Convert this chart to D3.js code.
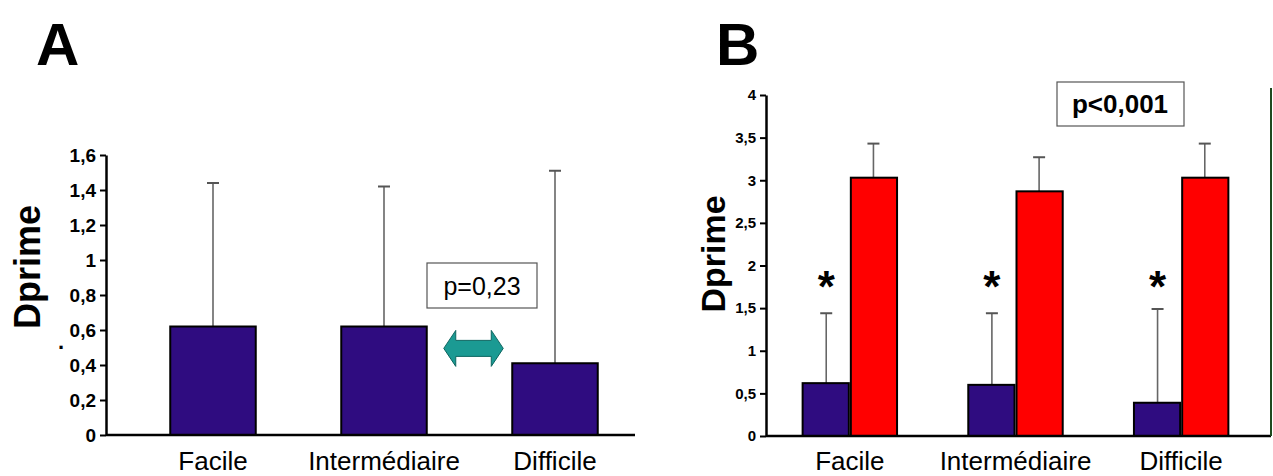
<!DOCTYPE html>
<html>
<head>
<meta charset="utf-8">
<script src="https://cdn.jsdelivr.net/npm/d3@7/dist/d3.min.js"></script>
<style>
  html, body { margin: 0; padding: 0; background: #fff; }
  svg { display: block; font-family: "Liberation Sans", Arial, sans-serif; }
</style>
</head>
<body>
<svg id="chart" width="1273" height="476"></svg>
<script>
// ---- data ----
const categories = ["Facile", "Intermédiaire", "Difficile"];
const aValues = [0.62, 0.62, 0.41];
const aErrTop = [1.44, 1.42, 1.51];
const bBlueValues = [0.62, 0.60, 0.39];
const bBlueErrTop = [1.44, 1.44, 1.49];
const bRedValues = [3.03, 2.87, 3.03];
const bRedErrTop = [3.43, 3.27, 3.43];
const aTicks = [0, 0.2, 0.4, 0.6, 0.8, 1, 1.2, 1.4, 1.6];
const bTicks = [0, 0.5, 1, 1.5, 2, 2.5, 3, 3.5, 4];
const aPText = "p=0,23";
const bPText = "p<0,001";
const yLabel = "Dprime";

const svg = d3.select("#chart");
const fmt = d => String(d).replace(".", ",");
const blue = "#2f0c80", red = "#ff0000";

function drawErr(g, x, y0, y1) {
  g.append("line").attr("x1", x).attr("x2", x).attr("y1", y0).attr("y2", y1)
    .attr("stroke", "#666").attr("stroke-width", 1.6);
  g.append("line").attr("x1", x - 6).attr("x2", x + 6).attr("y1", y1).attr("y2", y1)
    .attr("stroke", "#555").attr("stroke-width", 2);
}

// ================= Panel A =================
{
  const g = svg.append("g");
  const y = d3.scaleLinear().domain([0, 1.6]).range([435, 155]);
  const x = d3.scaleBand().domain(categories).range([127.5, 640.5]).paddingInner(0.5).paddingOuter(0.25);
  const axisX0 = 106, axisX1 = 635;

  g.append("text").attr("x", 36).attr("y", 65).attr("font-size", 60).attr("font-weight", "bold").text("A");

  categories.forEach((c, i) => drawErr(g, x(c) + x.bandwidth() / 2, y(aValues[i]), y(aErrTop[i])));

  g.selectAll("rect.bar").data(categories).join("rect")
    .attr("x", c => x(c)).attr("width", x.bandwidth())
    .attr("y", (c, i) => y(aValues[i])).attr("height", (c, i) => y(0) - y(aValues[i]))
    .attr("fill", blue).attr("stroke", "#000").attr("stroke-width", 2);

  const ax = g.append("g").attr("transform", `translate(${axisX0},0)`)
    .call(d3.axisLeft(y).tickValues(aTicks).tickFormat(fmt).tickSize(6).tickSizeOuter(0).tickPadding(4));
  ax.attr("font-size", 19).attr("font-family", "Liberation Sans, Arial, sans-serif");
  ax.select(".domain").attr("stroke-width", 2.5);
  ax.selectAll(".tick line").attr("stroke-width", 2);
  ax.selectAll(".tick text").attr("font-weight", "bold").attr("fill", "#000");

  g.append("line").attr("x1", axisX0).attr("x2", axisX1).attr("y1", y(0)).attr("y2", y(0))
    .attr("stroke", "#000").attr("stroke-width", 2.5);

  g.selectAll("text.cat").data(categories).join("text")
    .attr("x", c => x(c) + x.bandwidth() / 2).attr("y", 470)
    .attr("text-anchor", "middle").attr("font-size", 26).text(c => c);

  g.append("text").attr("transform", "translate(40,267) rotate(-90)")
    .attr("text-anchor", "middle").attr("font-size", 36).attr("font-weight", "bold").text(yLabel);
  g.append("text").attr("x", 58).attr("y", 349).attr("font-size", 22).attr("font-weight", "bold").text(".");

  g.append("rect").attr("x", 427).attr("y", 263).attr("width", 110).attr("height", 45)
    .attr("fill", "#fff").attr("stroke", "#555").attr("stroke-width", 1.2);
  g.append("text").attr("x", 482).attr("y", 295).attr("text-anchor", "middle").attr("font-size", 25).text(aPText);

  const ax0 = x(categories[1]) + x.bandwidth() + 17, ax1 = x(categories[2]) - 9;
  const ay = y((aValues[1] + aValues[2]) / 2 - 0.02);
  const hw = 12, sh = 8, hh = 18;
  const pts = [[ax0, ay], [ax0 + hw, ay - hh], [ax0 + hw, ay - sh], [ax1 - hw, ay - sh], [ax1 - hw, ay - hh],
               [ax1, ay], [ax1 - hw, ay + hh], [ax1 - hw, ay + sh], [ax0 + hw, ay + sh], [ax0 + hw, ay + hh]];
  g.append("path").attr("d", d3.line()(pts) + "Z").attr("fill", "#1b9a93").attr("stroke", "#0e6660").attr("stroke-width", 1);
}

// ================= Panel B =================
{
  const g = svg.append("g");
  const y = d3.scaleLinear().domain([0, 4]).range([436, 95]);
  const x = d3.scaleBand().domain(categories).range([767, 1264]).paddingInner(0.43).paddingOuter(0.215);
  const xs = d3.scaleBand().domain(["blue", "red"]).range([0, x.bandwidth()]).padding(0);
  const axisX0 = 766, axisX1 = 1271;

  g.append("text").attr("x", 716).attr("y", 65).attr("font-size", 60).attr("font-weight", "bold").text("B");

  categories.forEach((c, i) => {
    drawErr(g, x(c) + xs("blue") + xs.bandwidth() / 2, y(bBlueValues[i]), y(bBlueErrTop[i]));
    drawErr(g, x(c) + xs("red") + xs.bandwidth() / 2, y(bRedValues[i]), y(bRedErrTop[i]));
  });

  g.selectAll("rect.blue").data(categories).join("rect")
    .attr("x", c => x(c) + xs("blue")).attr("width", xs.bandwidth() - 1)
    .attr("y", (c, i) => y(bBlueValues[i])).attr("height", (c, i) => y(0) - y(bBlueValues[i]))
    .attr("fill", blue).attr("stroke", "#000").attr("stroke-width", 2);
  g.selectAll("rect.red").data(categories).join("rect")
    .attr("x", c => x(c) + xs("red") + 1).attr("width", xs.bandwidth() - 1)
    .attr("y", (c, i) => y(bRedValues[i])).attr("height", (c, i) => y(0) - y(bRedValues[i]))
    .attr("fill", red).attr("stroke", "#000").attr("stroke-width", 2);

  g.selectAll("text.star").data(categories).join("text")
    .attr("x", c => x(c) + xs("blue") + xs.bandwidth() / 2).attr("y", 302)
    .attr("text-anchor", "middle").attr("font-size", 44).attr("font-weight", "bold").text("*");

  const ax = g.append("g").attr("transform", `translate(${axisX0},0)`)
    .call(d3.axisLeft(y).tickValues(bTicks).tickFormat(fmt).tickSize(6).tickSizeOuter(0).tickPadding(4));
  ax.attr("font-size", 15).attr("font-family", "Liberation Sans, Arial, sans-serif");
  ax.select(".domain").attr("stroke-width", 2.5);
  ax.selectAll(".tick line").attr("stroke-width", 2);
  ax.selectAll(".tick text").attr("font-weight", "bold").attr("fill", "#000");

  g.append("line").attr("x1", axisX0).attr("x2", axisX1).attr("y1", y(0)).attr("y2", y(0))
    .attr("stroke", "#000").attr("stroke-width", 2.5);
  g.append("line").attr("x1", axisX1).attr("x2", axisX1).attr("y1", 88).attr("y2", y(0))
    .attr("stroke", "#1f4a1f").attr("stroke-width", 2);

  g.selectAll("text.cat").data(categories).join("text")
    .attr("x", c => x(c) + x.bandwidth() / 2).attr("y", 470)
    .attr("text-anchor", "middle").attr("font-size", 26).text(c => c);

  g.append("text").attr("transform", "translate(725,254) rotate(-90)")
    .attr("text-anchor", "middle").attr("font-size", 34).attr("font-weight", "bold").text(yLabel);

  g.append("rect").attr("x", 1057).attr("y", 82).attr("width", 127).attr("height", 44)
    .attr("fill", "#fff").attr("stroke", "#555").attr("stroke-width", 1.2);
  g.append("text").attr("x", 1120).attr("y", 113).attr("text-anchor", "middle")
    .attr("font-size", 26).attr("font-weight", "bold").text(bPText);
}
</script>
</body>
</html>
